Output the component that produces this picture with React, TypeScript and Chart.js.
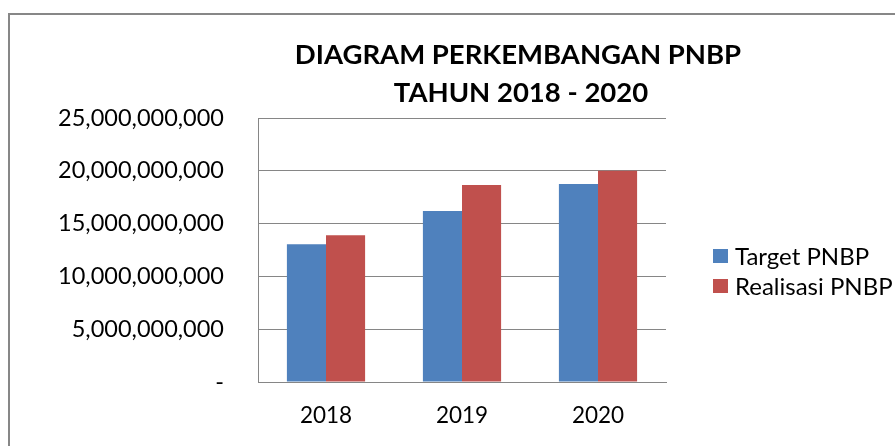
import React, { useEffect, useRef } from "react";
import { Chart, registerables } from "chart.js";

Chart.register(...registerables);

const TITLE_LINES = ["DIAGRAM PERKEMBANGAN PNBP", "TAHUN 2018 - 2020"];
const YEARS = ["2018", "2019", "2020"];
const SERIES_NAMES = ["Target PNBP", "Realisasi PNBP"];
const TARGET = [13050000000, 16200000000, 18750000000];
const REALISASI = [13900000000, 18650000000, 20000000000];
const Y_MIN = 0;
const Y_MAX = 25000000000;
const Y_STEP = 5000000000;

const BLUE = "#4F81BD";
const RED = "#C0504D";
const GRID = "#868686";

const titlePlugin = {
  id: "customTitle",
  afterDraw(chart: any) {
    const ctx = chart.ctx;
    ctx.save();
    ctx.font = "bold 27.5px Lato";
    ctx.fillStyle = "#000";
    ctx.textAlign = "center";
    ctx.textBaseline = "alphabetic";
    ctx.fillText(TITLE_LINES[0], 508, 49);
    ctx.fillText(TITLE_LINES[1], 511, 87);
    ctx.restore();
  },
};

const legendPlugin = {
  id: "sideLegend",
  afterDraw(chart: any) {
    const ctx = chart.ctx;
    ctx.save();
    ctx.font = "24px Lato";
    ctx.textAlign = "left";
    ctx.textBaseline = "alphabetic";
    chart.data.datasets.forEach((ds: any, i: number) => {
      const y = 234 + i * 30;
      ctx.fillStyle = ds.backgroundColor;
      ctx.fillRect(703, y, 15, 14);
      ctx.fillStyle = "#000";
      ctx.fillText(ds.label, 725, y + 16);
    });
    ctx.restore();
  },
};

export default function App() {
  const ref = useRef<HTMLCanvasElement>(null);

  useEffect(() => {
    if (!ref.current) return;
    const chart = new Chart(ref.current, {
      type: "bar",
      data: {
        labels: YEARS,
        datasets: [
          {
            label: SERIES_NAMES[0],
            data: TARGET,
            backgroundColor: BLUE,
            categoryPercentage: 0.575,
            barPercentage: 1,
          },
          {
            label: SERIES_NAMES[1],
            data: REALISASI,
            backgroundColor: RED,
            categoryPercentage: 0.575,
            barPercentage: 1,
          },
        ],
      },
      options: {
        responsive: false,
        animation: false,
        layout: { padding: { top: 103, right: 229, bottom: 0, left: 0 } },
        plugins: {
          legend: { display: false },
          title: { display: false },
          tooltip: { enabled: false },
        },
        scales: {
          x: {
            grid: { display: false, drawTicks: false },
            border: { display: true, color: GRID, width: 1 },
            ticks: {
              color: "#000",
              font: { family: "Lato", size: 22.5 },
              padding: 20,
            },
            afterFit(s: any) {
              s.height = 64;
            },
          },
          y: {
            min: Y_MIN,
            max: Y_MAX,
            grid: { color: GRID, drawTicks: false, lineWidth: 1 },
            border: { display: true, color: GRID, width: 1 },
            ticks: {
              stepSize: Y_STEP,
              color: "#000",
              font: { family: "Lato", size: 23.5 },
              padding: 34,
              callback: (v: any) =>
                Number(v) === 0 ? "-" : Number(v).toLocaleString("en-US"),
            },
            afterFit(s: any) {
              s.width = 248;
            },
          },
        },
      },
      plugins: [titlePlugin, legendPlugin],
    } as any);
    return () => chart.destroy();
  }, []);

  return (
    <div
      style={{
        position: "fixed",
        left: 8,
        top: 13,
        width: 887,
        height: 433,
        boxSizing: "border-box",
        borderLeft: "2px solid #878787",
        borderTop: "2px solid #878787",
        background: "#fff",
      }}
    >
      <canvas ref={ref} width={885} height={431} style={{ display: "block" }} />
    </div>
  );
}
